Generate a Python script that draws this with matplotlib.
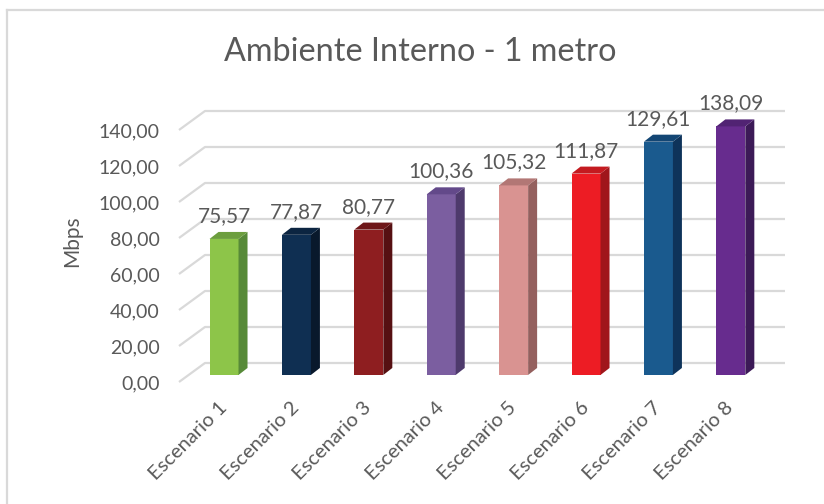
import matplotlib
matplotlib.use("Agg")
import matplotlib.pyplot as plt
from matplotlib.patches import Polygon
from matplotlib.lines import Line2D
from matplotlib.transforms import ScaledTranslation

# Data
categories = ["Escenario 1", "Escenario 2", "Escenario 3", "Escenario 4",
              "Escenario 5", "Escenario 6", "Escenario 7", "Escenario 8"]
throughput = [75.57, 77.87, 80.77, 100.36, 105.32, 111.87, 129.61, 138.09]
y_ticks = [0, 20, 40, 60, 80, 100, 120, 140]

# Face colours for each bar: front, side, top
front_colors = ["#8dc549", "#0f2f52", "#8e1e20", "#7b5ea0",
                "#d99391", "#ed1c24", "#1a5a8e", "#672c8e"]
side_colors = ["#578a38", "#09192c", "#561012", "#4e3a6c",
               "#94605e", "#a0161b", "#0e335a", "#3c1a57"]
top_colors = ["#6c9e3e", "#0c2541", "#6e1618", "#63498a",
              "#b27775", "#c41a20", "#134674", "#512373"]

text_gray = "#595959"
grid_gray = "#d9d9d9"
font = "Lato"

W, H, DPI = 824, 504, 100
fig = plt.figure(figsize=(W / DPI, H / DPI), dpi=DPI)

# plot area in pixels
px_left, px_right = 179, 785
px_top, px_bottom = 100, 382
ax = fig.add_axes([px_left / W, (H - px_bottom) / H,
                   (px_right - px_left) / W, (px_bottom - px_top) / H])

px_per_cat = 72.4
px_per_val = 1.8
first_center_px = 214.4
x0 = (px_left - first_center_px) / px_per_cat
x1 = (px_right - first_center_px) / px_per_cat
ax.set_xlim(x0, x1)
ax.set_ylim(0, (px_bottom - px_top) / px_per_val)

# depth of the 3-D floor in data units
depth_dx = 26 / px_per_cat
depth_dy = 19 / px_per_val

# back wall gridlines with their side-wall diagonals
for t in y_ticks:
    ax.add_line(Line2D([x0, x0 + depth_dx, x1], [t, t + depth_dy, t + depth_dy],
                       color=grid_gray, lw=1.6, zorder=1, clip_on=False,
                       solid_capstyle="butt"))

# bars with front, side and top faces
half_w = 14.5 / px_per_cat
front_d = 0.37
bar_dx = 9 / px_per_cat
bar_dy = 7 / px_per_val
for i, v in enumerate(throughput):
    cx = i + front_d * depth_dx
    base = front_d * depth_dy
    xl, xr = cx - half_w, cx + half_w
    top = base + v
    front = Polygon([(xl, base), (xr, base), (xr, top), (xl, top)],
                    closed=True, fc=front_colors[i], ec="none", zorder=3)
    side = Polygon([(xr, base), (xr + bar_dx, base + bar_dy),
                    (xr + bar_dx, top + bar_dy), (xr, top)],
                   closed=True, fc=side_colors[i], ec="none", zorder=3)
    lid = Polygon([(xl, top), (xr, top), (xr + bar_dx, top + bar_dy),
                   (xl + bar_dx, top + bar_dy)],
                  closed=True, fc=top_colors[i], ec="none", zorder=3)
    for p in (front, side, lid):
        ax.add_patch(p)
    ax.annotate(f"{v:.2f}".replace(".", ","), xy=(cx, top), xytext=(0, 12.2),
                textcoords="offset points", ha="center", va="baseline",
                fontsize=15, color=text_gray, family=font, zorder=4)

# axes styling
for s in ax.spines.values():
    s.set_visible(False)
ax.set_yticks(y_ticks)
ax.set_yticklabels([f"{t:.2f}".replace(".", ",") for t in y_ticks],
                   fontsize=14, color=text_gray, family=font)
ax.tick_params(axis="y", length=0, pad=14)
ax.set_xticks([i + front_d * depth_dx for i in range(len(categories))])
ax.set_xticklabels(categories, rotation=45, ha="right", rotation_mode="anchor",
                   fontsize=14.5, color=text_gray, family=font)
ax.tick_params(axis="x", length=0, pad=14)
shift = ScaledTranslation(-6 / DPI, 3 / DPI, fig.dpi_scale_trans)
for lab in ax.get_xticklabels():
    lab.set_transform(lab.get_transform() + shift)
ax.set_ylabel("Mbps", fontsize=15, color=text_gray, family=font, labelpad=12)
ax.patch.set_visible(False)

fig.text(420 / W, 1 - 52 / H, "Ambiente Interno - 1 metro", ha="center",
         va="center", fontsize=23.3, color=text_gray, family=font)

# chart area border (top and left edges)
fig.add_artist(Line2D([7 / W, 7 / W], [0, 1 - 10 / H], transform=fig.transFigure,
                      color=grid_gray, lw=1.6))
fig.add_artist(Line2D([7 / W, 1], [1 - 10 / H, 1 - 10 / H], transform=fig.transFigure,
                      color=grid_gray, lw=1.6))

fig.savefig("out.png", dpi=DPI, facecolor="white")
